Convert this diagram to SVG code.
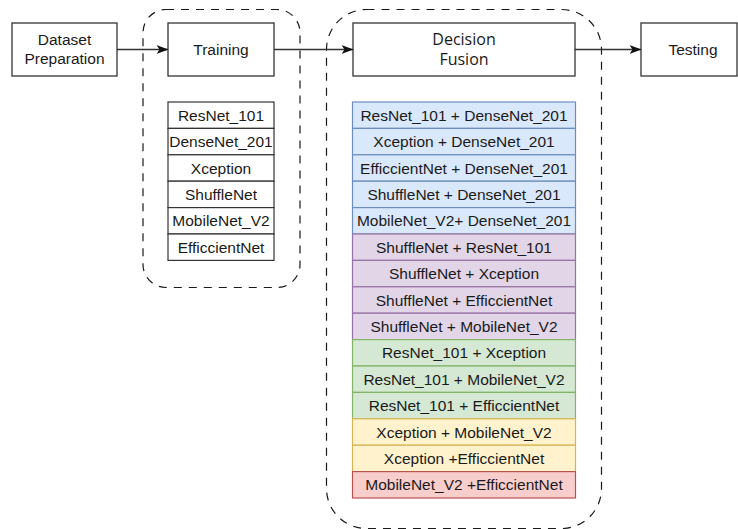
<svg xmlns="http://www.w3.org/2000/svg" width="738" height="529" viewBox="0 0 738 529">
  <style>
    .box { fill: #ffffff; stroke: #333333; stroke-width: 1.3; }
    .group { fill: none; stroke: #1a1a1a; stroke-width: 1.2; stroke-dasharray: 8 7; }
    .lbl { font-family: "Liberation Sans", Arial, sans-serif; font-size: 15.5px; fill: #1a1a1a; text-anchor: middle; }
    .item { font-family: "Liberation Sans", Arial, sans-serif; font-size: 15.5px; fill: #1a1a1a; text-anchor: middle; }
    .fusion { font-family: "Open Sans", "Noto Sans", sans-serif; font-size: 16px; fill: #1a1a1a; text-anchor: middle; }
    .plain { fill: #ffffff; stroke: #333333; stroke-width: 1.2; }
    .blue { fill: #dae8fc; stroke: #6c8ebf; stroke-width: 1.2; }
    .purple { fill: #e1d5e7; stroke: #9673a6; stroke-width: 1.2; }
    .green { fill: #d5e8d4; stroke: #82b366; stroke-width: 1.2; }
    .yellow { fill: #fff2cc; stroke: #d6b656; stroke-width: 1.2; }
    .red { fill: #f8cecc; stroke: #b85450; stroke-width: 1.2; }
    .edge { fill: none; stroke: #333333; stroke-width: 1.3; }
  </style>
  <defs>
    <marker id="arrow" viewBox="0 0 12 9" refX="11.5" refY="4.5" markerWidth="12" markerHeight="9" markerUnits="userSpaceOnUse" orient="auto">
      <path d="M0,0 L12,4.5 L0,9 L3,4.5 Z" fill="#111111"/>
    </marker>
  </defs>

  <!-- dashed stage containers -->
  <g id="training-stage">
    <rect class="group" x="143" y="9.5" width="157" height="278" rx="23" ry="23"/>
  </g>
  <g id="fusion-stage">
    <rect class="group" x="326.5" y="9.5" width="275" height="519" rx="40" ry="40"/>
  </g>

  <!-- pipeline steps -->
  <g id="dataset-preparation">
    <rect class="box" x="12" y="23" width="105" height="53"/>
    <text class="lbl" x="64.5" y="45">Dataset</text>
    <text class="lbl" x="64.5" y="64">Preparation</text>
  </g>
  <g id="training">
    <rect class="box" x="168" y="23" width="106" height="53"/>
    <text class="lbl" x="221" y="55">Training</text>
  </g>
  <g id="decision-fusion">
    <rect class="box" x="353" y="23" width="222" height="53"/>
    <text class="fusion" x="464" y="45">Decision</text>
    <text class="fusion" x="464" y="65">Fusion</text>
  </g>
  <g id="testing">
    <rect class="box" x="641" y="23" width="96" height="53"/>
    <text class="lbl" x="693" y="55">Testing</text>
  </g>

  <!-- trained models -->
  <g id="model-list">
    <rect class="plain" x="168" y="102" width="106" height="26.4"/>
    <text class="item" x="221" y="120.7">ResNet_101</text>
    <rect class="plain" x="168" y="128.4" width="106" height="26.4"/>
    <text class="item" x="221" y="147.1">DenseNet_201</text>
    <rect class="plain" x="168" y="154.8" width="106" height="26.4"/>
    <text class="item" x="221" y="173.5">Xception</text>
    <rect class="plain" x="168" y="181.2" width="106" height="26.4"/>
    <text class="item" x="221" y="199.9">ShuffleNet</text>
    <rect class="plain" x="168" y="207.6" width="106" height="26.4"/>
    <text class="item" x="221" y="226.3">MobileNet_V2</text>
    <rect class="plain" x="168" y="234" width="106" height="26.4"/>
    <text class="item" x="221" y="252.7">EfficcientNet</text>
  </g>

  <!-- model pairs for fusion -->
  <g id="fusion-list">
    <rect class="blue" x="352.5" y="102" width="223" height="26.4"/>
    <text class="item" x="464" y="120.7">ResNet_101 + DenseNet_201</text>
    <rect class="blue" x="352.5" y="128.4" width="223" height="26.4"/>
    <text class="item" x="464" y="147.1">Xception + DenseNet_201</text>
    <rect class="blue" x="352.5" y="154.8" width="223" height="26.4"/>
    <text class="item" x="464" y="173.5">EfficcientNet + DenseNet_201</text>
    <rect class="blue" x="352.5" y="181.2" width="223" height="26.4"/>
    <text class="item" x="464" y="199.9">ShuffleNet + DenseNet_201</text>
    <rect class="blue" x="352.5" y="207.6" width="223" height="26.4"/>
    <text class="item" x="464" y="226.3">MobileNet_V2+ DenseNet_201</text>

    <rect class="purple" x="352.5" y="234" width="223" height="26.4"/>
    <text class="item" x="464" y="252.7">ShuffleNet + ResNet_101</text>
    <rect class="purple" x="352.5" y="260.4" width="223" height="26.4"/>
    <text class="item" x="464" y="279.1">ShuffleNet + Xception</text>
    <rect class="purple" x="352.5" y="286.8" width="223" height="26.4"/>
    <text class="item" x="464" y="305.5">ShuffleNet + EfficcientNet</text>
    <rect class="purple" x="352.5" y="313.2" width="223" height="26.4"/>
    <text class="item" x="464" y="331.9">ShuffleNet + MobileNet_V2</text>

    <rect class="green" x="352.5" y="339.6" width="223" height="26.4"/>
    <text class="item" x="464" y="358.3">ResNet_101 + Xception</text>
    <rect class="green" x="352.5" y="366" width="223" height="26.4"/>
    <text class="item" x="464" y="384.7">ResNet_101 + MobileNet_V2</text>
    <rect class="green" x="352.5" y="392.4" width="223" height="26.4"/>
    <text class="item" x="464" y="411.1">ResNet_101 + EfficcientNet</text>

    <rect class="yellow" x="352.5" y="418.8" width="223" height="26.4"/>
    <text class="item" x="464" y="437.5">Xception + MobileNet_V2</text>
    <rect class="yellow" x="352.5" y="445.2" width="223" height="26.4"/>
    <text class="item" x="464" y="463.9">Xception +EfficcientNet</text>

    <rect class="red" x="352.5" y="471.6" width="223" height="26.4"/>
    <text class="item" x="464" y="490.3">MobileNet_V2 +EfficcientNet</text>
  </g>

  <!-- flow between steps -->
  <g id="connectors">
    <line class="edge" x1="117" y1="49.5" x2="168" y2="49.5" marker-end="url(#arrow)"/>
    <line class="edge" x1="274" y1="49.5" x2="353" y2="49.5" marker-end="url(#arrow)"/>
    <line class="edge" x1="575" y1="49.5" x2="641" y2="49.5" marker-end="url(#arrow)"/>
  </g>
</svg>
